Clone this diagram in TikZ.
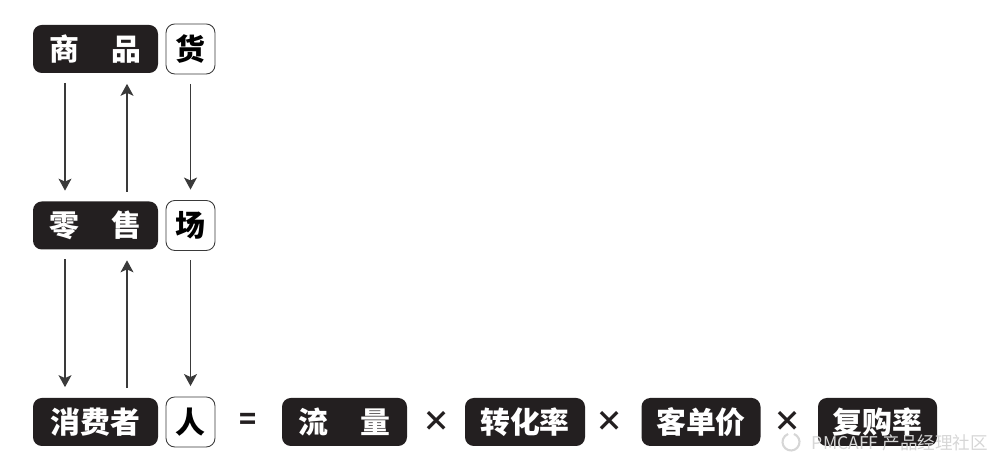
\documentclass[tikz,border=0pt]{standalone}
\usepackage{fontspec}
\setmainfont{Noto Sans CJK SC}[FontFace={b}{n}{Noto Sans CJK SC Medium}]
\usetikzlibrary{arrows.meta}
\definecolor{boxdark}{HTML}{231F20}
\definecolor{linegray}{HTML}{3A3A3A}
\definecolor{markgray}{HTML}{D6D6D6}

\tikzset{
  darkbox/.style={fill=boxdark, rounded corners=5pt, text=white, inner sep=0pt,
    minimum height=0.96cm, font=\fontsize{17}{20}\selectfont\bfseries},
  litebox/.style={draw=linegray, line width=0.5pt, fill=white, rounded corners=5pt, inner sep=0pt,
    minimum width=0.98cm, minimum height=1cm, font=\fontsize{17}{20}\selectfont\bfseries},
  opsign/.style={font=\fontsize{16}{20}\selectfont\bfseries, text=boxdark},
  flow/.style={draw=linegray, line width=0.6pt, -{Stealth[length=2.4mm,width=2.6mm,inset=0.6mm]},
    shorten <=0.19cm, shorten >=0.21cm},
}

\begin{document}
\begin{tikzpicture}
         \useasboundingbox (0,0) rectangle (20,9.28);
         % left column
         \node[darkbox, minimum width=2.5cm] (shangpin) at (1.91,8.30) {商\hspace{0.65cm}品};
         \node[litebox] (huo) at (3.81,8.30) {货};
         \node[darkbox, minimum width=2.5cm] (lingshou) at (1.91,4.77) {零\hspace{0.65cm}售};
         \node[litebox] (chang) at (3.81,4.77) {场};
         \node[darkbox, minimum width=2.5cm] (xiaofei) at (1.91,0.84) {消费者};
         \node[litebox] (ren) at (3.81,0.84) {人};
         % formula row
         \node[opsign] (eq) at (4.96,0.86) {=};
         \node[darkbox, minimum width=2.5cm] (liuliang) at (6.89,0.84) {流\hspace{0.65cm}量};
         \node[opsign] (x1) at (8.74,0.86) {×};
         \node[darkbox, minimum width=2.4cm] (zhuanhua) at (10.50,0.84) {转化率};
         \node[opsign] (x2) at (12.20,0.86) {×};
         \node[darkbox, minimum width=2.38cm] (kedan) at (14.02,0.84) {客单价};
         \node[opsign] (x3) at (15.76,0.86) {×};
         \node[darkbox, minimum width=2.38cm] (fugou) at (17.55,0.84) {复购率};
         % arrows
         \foreach \up/\dn in {shangpin/lingshou, lingshou/xiaofei} {
           \draw[flow] ([xshift=-0.61cm]\up.south) -- ([xshift=-0.61cm]\dn.north);
           \draw[flow] ([xshift=0.63cm]\dn.north) -- ([xshift=0.63cm]\up.south);
         }
         \foreach \up/\dn in {huo/chang, chang/ren} \draw[flow] (\up.south) -- (\dn.north);
         % watermark
         \draw[markgray, line width=1.2pt] (15.82,0.44) ++(70:0.17) arc[start angle=70, end angle=-250, radius=0.17];
         \node[text=markgray, font=\fontsize{10}{12}\selectfont] (mark) at (18.0,0.42) {PMCAFF 产品经理社区};
      \end{tikzpicture}
\end{document}
